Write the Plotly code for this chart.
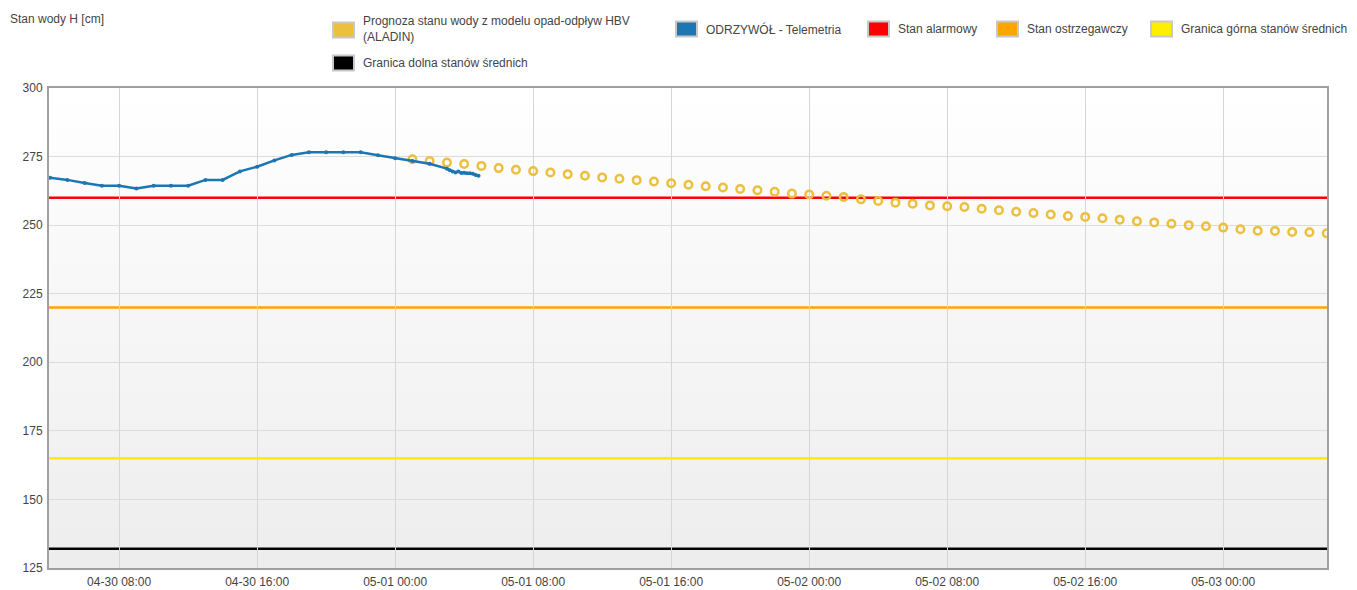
import plotly.graph_objects as go

# ---------------- data ----------------
tele_times = [
    "2024-04-30 04:00", "2024-04-30 05:00", "2024-04-30 06:00", "2024-04-30 07:00",
    "2024-04-30 08:00", "2024-04-30 09:00", "2024-04-30 10:00", "2024-04-30 11:00",
    "2024-04-30 12:00", "2024-04-30 13:00", "2024-04-30 14:00", "2024-04-30 15:00",
    "2024-04-30 16:00", "2024-04-30 17:00", "2024-04-30 18:00", "2024-04-30 19:00",
    "2024-04-30 20:00", "2024-04-30 21:00", "2024-04-30 22:00", "2024-04-30 23:00",
    "2024-05-01 00:00", "2024-05-01 01:00", "2024-05-01 02:00", "2024-05-01 03:00",
    "2024-05-01 03:10", "2024-05-01 03:20", "2024-05-01 03:30", "2024-05-01 03:40",
    "2024-05-01 03:50", "2024-05-01 04:00", "2024-05-01 04:10", "2024-05-01 04:20",
    "2024-05-01 04:30", "2024-05-01 04:40", "2024-05-01 04:50",
]
tele_values = [
    267.3, 266.5, 265.4, 264.4,
    264.4, 263.4, 264.4, 264.4,
    264.4, 266.5, 266.5, 269.6,
    271.3, 273.6, 275.6, 276.6,
    276.6, 276.6, 276.6, 275.5,
    274.4, 273.4, 272.4, 270.6,
    270.0, 269.6, 269.2, 269.6,
    269.0, 269.1, 268.9, 268.9,
    268.7, 268.3, 268.0,
]

fc_times = (
    [f"2024-05-01 {h:02d}:00" for h in range(1, 24)]
    + [f"2024-05-02 {h:02d}:00" for h in range(0, 24)]
    + [f"2024-05-03 {h:02d}:00" for h in range(0, 7)]
)
fc_values = [
    274.0, 273.4, 272.8, 272.3, 271.6, 270.8, 270.2, 269.7, 269.2, 268.6,
    268.0, 267.4, 266.9, 266.4, 265.9, 265.3, 264.7, 264.2, 263.7, 263.2,
    262.7, 262.2, 261.5,
    261.2, 260.7, 260.3, 259.4, 258.8, 258.2, 257.8, 257.2, 256.9, 256.6,
    256.0, 255.4, 254.9, 254.4, 253.9, 253.3, 253.0, 252.5, 252.0, 251.4,
    251.0, 250.5, 250.0, 249.6,
    249.1, 248.5, 248.0, 247.9, 247.5, 247.4, 247.0,
]

level_names = ["Stan alarmowy", "Stan ostrzegawczy",
               "Granica górna stanów średnich", "Granica dolna stanów średnich"]
level_values = [260, 220, 165, 132]
level_colors = ["#ff0000", "#ffa500", "#ffee00", "#000000"]

fc_name = "Prognoza stanu wody z modelu opad-odpływ HBV<br>(ALADIN)"
tele_name = "ODRZYWÓŁ - Telemetria"
fc_color = "#ecbf3c"
tele_color = "#1b76b3"

y_ticks = [125, 150, 175, 200, 225, 250, 275, 300]
x_range = ["2024-04-30 03:56", "2024-05-03 06:01"]

FONT = "Liberation Sans, Arial, sans-serif"
TXT = "#444444"

# page offset of the plot div inside the browser window (body margin)
OX, OY = 8, 7
W, H = 1357 - OX, 590 - OY
L, T = 49 - OX, 87 - OY
R = W - (1327 - OX)
B = H - (567 - OY)
PW, PH = W - L - R, H - T - B


def px_x(px):
    """window pixel x -> paper coordinate"""
    return (px - OX - L) / PW


def px_y(py):
    """window pixel y -> paper coordinate"""
    return (H - B - (py - OY)) / PH


fig = go.Figure()

fig.add_trace(go.Scatter(
    x=fc_times, y=fc_values, mode="markers", name=fc_name,
    marker=dict(symbol="circle-open", size=7.5, color=fc_color, line=dict(width=2.5, color=fc_color)),
    showlegend=False,
))
fig.add_trace(go.Scatter(
    x=tele_times, y=tele_values, mode="lines+markers", name=tele_name,
    line=dict(color=tele_color, width=2.5),
    marker=dict(size=4, color=tele_color),
    showlegend=False,
))

shapes = []
# gradient background bands
n_bands = 60
for i in range(n_bands):
    t = (i + 0.5) / n_bands  # 0 bottom -> 1 top
    c = int(round(237 + (255 - 237) * t))
    shapes.append(dict(type="rect", xref="x domain", yref="y domain",
                       x0=0, x1=1, y0=i / n_bands, y1=(i + 1) / n_bands,
                       fillcolor=f"rgb({c},{c},{c})", line=dict(width=0), layer="below"))
# level lines
for v, col in zip(level_values, level_colors):
    shapes.append(dict(type="line", xref="x domain", yref="y", x0=0, x1=1, y0=v, y1=v,
                       line=dict(color=col, width=2.5), layer="below"))

annotations = [dict(text="Stan wody H [cm]", x=px_x(8), y=px_y(18), xref="paper", yref="paper",
                    showarrow=False, font=dict(family=FONT, size=12, color=TXT),
                    xanchor="left", yanchor="middle")]

legend_items = [
    (fc_name, fc_color, 333, 29, 28),
    (tele_name, tele_color, 676, 28, 28),
    (level_names[0], level_colors[0], 868, 28, 28),
    (level_names[1], level_colors[1], 997, 28, 28),
    (level_names[2], level_colors[2], 1151, 28, 28),
    (level_names[3], level_colors[3], 333, 62, 62),
]
for name, col, px, py, ty in legend_items:
    shapes.append(dict(type="rect", xref="paper", yref="paper",
                       x0=px_x(px), x1=px_x(px + 21), y0=px_y(py - 7.5), y1=px_y(py + 7.5),
                       fillcolor=col, line=dict(color="#c8c8c8", width=2)))
    annotations.append(dict(text=name, x=px_x(px + 28), y=px_y(ty), xref="paper", yref="paper",
                            showarrow=False, align="left", xanchor="left", yanchor="middle",
                            font=dict(family=FONT, size=12, color=TXT)))

fig.update_layout(
    width=W, height=H,
    margin=dict(l=L, r=R, t=T, b=B, autoexpand=False),
    paper_bgcolor="white", plot_bgcolor="white",
    font=dict(family=FONT, size=12, color=TXT),
    shapes=shapes, annotations=annotations,
    showlegend=False,
    xaxis=dict(type="date", range=x_range, tickformat="%m-%d %H:%M",
               tick0="2024-04-30 00:00", dtick=8 * 3600 * 1000,
               showgrid=True, gridcolor="#d6d6d6", gridwidth=1,
               showline=True, linecolor="#a0a0a0", linewidth=2, mirror=True,
               ticks="outside", ticklen=2, tickcolor="rgba(0,0,0,0)", zeroline=False,
               automargin=False,
               tickfont=dict(family=FONT, size=12, color=TXT)),
    yaxis=dict(range=[125, 300], tickvals=y_ticks,
               showgrid=True, gridcolor="#dcdcdc", gridwidth=1,
               showline=True, linecolor="#a0a0a0", linewidth=2, mirror=True,
               ticks="outside", ticklen=2, tickcolor="rgba(0,0,0,0)", zeroline=False,
               automargin=False,
               tickfont=dict(family=FONT, size=12, color=TXT)),
)

fig.write_html("out.html")
